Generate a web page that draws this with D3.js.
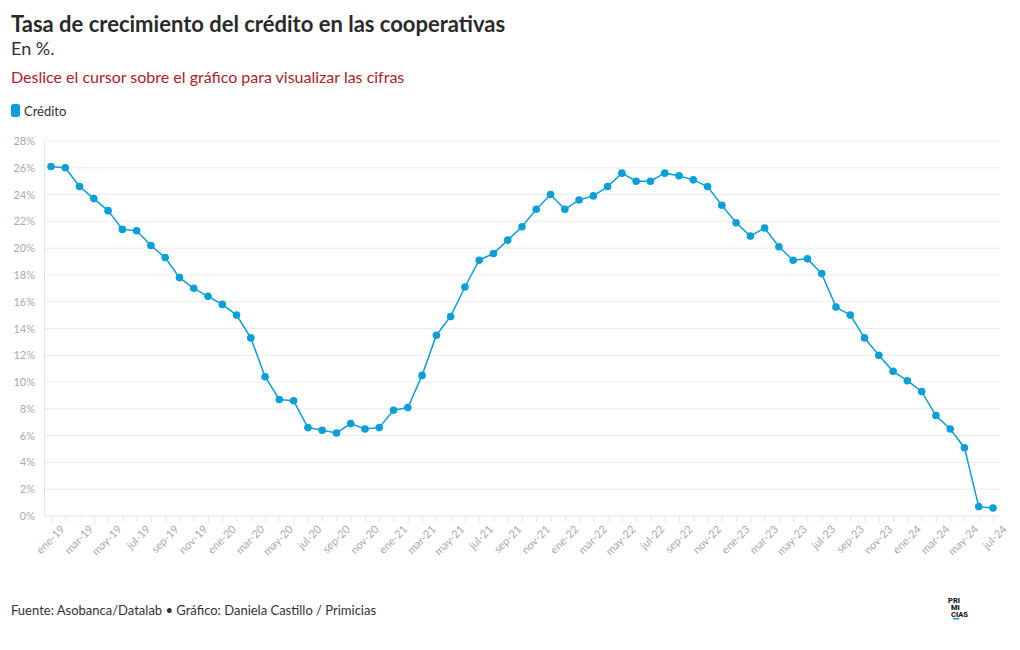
<!DOCTYPE html>
<html><head><meta charset="utf-8">
<script src="https://cdn.jsdelivr.net/npm/d3@7"></script>
<style>
body{margin:0;background:#fff;}
svg{display:block;font-family:"Lato","Noto Sans",sans-serif;}
</style></head>
<body><svg id="c" width="1020" height="650"></svg>
<script>
const months = ["ene","feb","mar","abr","may","jun","jul","ago","sep","oct","nov","dic"];
const years = ["19","20","21","22","23","24"];
const categories = [];
years.forEach(y => months.forEach(m => categories.push(m + "-" + y)));
categories.splice(67);
const credito = [26.1,26.0,24.6,23.7,22.8,21.4,21.3,20.2,19.3,17.8,17.0,16.4,
  15.8,15.0,13.3,10.4,8.7,8.6,6.6,6.4,6.2,6.9,6.5,6.6,
  7.9,8.1,10.5,13.5,14.9,17.1,19.1,19.6,20.6,21.6,22.9,24.0,
  22.9,23.6,23.9,24.6,25.6,25.0,25.0,25.6,25.4,25.1,24.6,23.2,
  21.9,20.9,21.5,20.1,19.1,19.2,18.1,15.6,15.0,13.3,12.0,10.8,
  10.1,9.3,7.5,6.5,5.1,0.7,0.6];
const yTicks = [0,2,4,6,8,10,12,14,16,18,20,22,24,26,28];

const svg = d3.select("#c");
const pLeft = 44, pRight = 1000, pTop = 141, pBottom = 516;

svg.append("text").attr("x",11).attr("y",32).attr("font-size",22).attr("font-weight",700)
  .attr("fill","#2a2a2a").text("Tasa de crecimiento del crédito en las cooperativas");
svg.append("text").attr("x",11).attr("y",55).attr("font-size",18).attr("fill","#333")
  .text("En %.");
svg.append("text").attr("x",11).attr("y",83).attr("font-size",16).attr("fill","#b0202b")
  .text("Deslice el cursor sobre el gráfico para visualizar las cifras");
svg.append("rect").attr("x",11).attr("y",104).attr("width",9).attr("height",13).attr("rx",2.5)
  .attr("fill","#0b9fd9");
svg.append("text").attr("x",24).attr("y",116).attr("font-size",13).attr("fill","#333").text("Crédito");

const x = d3.scalePoint().domain(categories).range([51, 993]);
const y = d3.scaleLinear().domain([0,28]).range([pBottom, pTop]);

// grid
svg.append("g").selectAll("line").data(yTicks.filter(d=>d>0)).join("line")
  .attr("x1",pLeft).attr("x2",pRight).attr("y1",d=>y(d)).attr("y2",d=>y(d))
  .attr("stroke","#ebebeb").attr("stroke-width",1);

// y axis
const ya = svg.append("g").attr("transform",`translate(${pLeft},0)`)
  .call(d3.axisLeft(y).tickValues(yTicks).tickFormat(d=>d+"%").tickSize(0).tickPadding(9));
ya.select(".domain").attr("stroke","#e6e6e6");
ya.selectAll("text").attr("font-size",11).attr("fill","#aaa").attr("font-family","Lato, sans-serif");

// x axis
const xa = svg.append("g").attr("transform",`translate(0,${pBottom})`)
  .call(d3.axisBottom(x).tickSize(6).tickPadding(4)
    .tickFormat((d,i)=> i%2===0 ? d : ""));
xa.select(".domain").attr("d",`M${pLeft},0H${pRight}`).attr("stroke","#e6e6e6");
xa.selectAll(".tick line").attr("stroke","#e6e6e6");
xa.selectAll("text").attr("font-size",11).attr("fill","#aaa").attr("font-family","Lato, sans-serif")
  .attr("text-anchor","end").attr("transform","translate(3,3) rotate(-45)").attr("dy","0.5em");

// line
const line = d3.line().x((d,i)=>x(categories[i])).y(d=>y(d));
svg.append("path").datum(credito).attr("d",line).attr("fill","none")
  .attr("stroke","#0b9fd9").attr("stroke-width",1.5);
svg.append("g").selectAll("circle").data(credito).join("circle")
  .attr("cx",(d,i)=>x(categories[i])).attr("cy",d=>y(d)).attr("r",3.8).attr("fill","#0b9fd9");

// footer
svg.append("text").attr("x",11).attr("y",615).attr("font-size",13).attr("fill","#333")
  .text("Fuente: Asobanca/Datalab • Gráfico: Daniela Castillo / Primicias");
const logo = svg.append("g").attr("font-size",7.5).attr("font-weight",900).attr("fill","#222")
  .attr("font-family","Roboto, sans-serif");
logo.append("text").attr("x",948).attr("y",603).text("PRI");
logo.append("text").attr("x",951).attr("y",610).text("MI");
logo.append("text").attr("x",951).attr("y",617).text("CIAS");
svg.append("rect").attr("x",953).attr("y",618).attr("width",6).attr("height",1.5).attr("fill","#0b9fd9");
</script></body></html>
